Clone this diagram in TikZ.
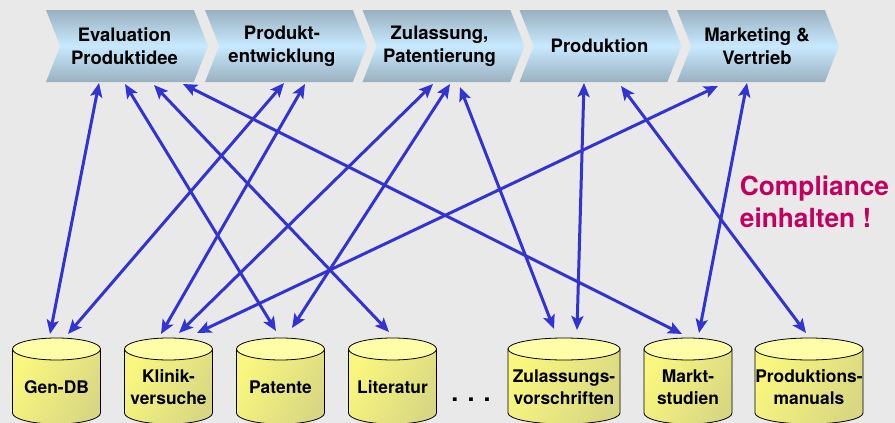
\documentclass[tikz,border=0pt]{standalone}
\usepackage{fontspec}
\setmainfont{TeX Gyre Heros}
\usetikzlibrary{arrows.meta,shapes.symbols}
\definecolor{bgc}{HTML}{E9E9E9}
\definecolor{chevA}{HTML}{9AB0BF}
\definecolor{chevB}{HTML}{C8E9FF}
\definecolor{cylA}{HTML}{F9F77E}
\definecolor{cylB}{HTML}{D9D882}
\definecolor{cylTop}{HTML}{FEFEA8}
\definecolor{linkc}{HTML}{3333D4}
\definecolor{warnc}{HTML}{C4005E}
\tikzset{
  chev/.style={shape=signal,signal from=west,signal to=east,signal pointer angle=137,
    minimum width=162pt,minimum height=72pt,inner sep=0pt,outer sep=0pt,
    top color=chevA,bottom color=chevA,middle color=chevB},
  chevtext/.style={inner sep=0pt,outer sep=0pt,align=center,
    font=\fontsize{18.5}{23}\selectfont\bfseries},
  cylbox/.style={minimum height=85pt,inner sep=0pt,outer sep=0pt,align=center,
    font=\fontsize{17.4}{22}\selectfont\bfseries},
  cylbody/.style={draw=black,line width=0.8pt,top color=cylA,bottom color=cylB,shading angle=60},
  cyltop/.style={draw=black,line width=0.8pt,fill=cylTop},
  link/.style={draw=linkc,line width=3pt,{Stealth[length=14pt,width=12pt,inset=3pt]}-{Stealth[length=14pt,width=12pt,inset=3pt]}}
}
\newcommand\chv[4]{% name, cx, text cx, text
  \node[chev] (#1) at (#2,46) {};
  \node[chevtext] (#1t) at (#3,46) {#4};
}
\newcommand\dbcyl[5]{% name, cx, width, text, text y
  \path[cylbody] ({#2-#3/2},349) -- ({#2-#3/2},413) arc[start angle=180,end angle=0,x radius={#3/2},y radius=11]
     -- ({#2+#3/2},349) -- cycle;
  \path[cyltop] (#2,349) ellipse[x radius={#3/2},y radius=11];
  \node[cylbox,minimum width=#3 pt] (#1) at (#2,380.5) {};
  \node[cylbox] (#1t) at (#2,#5) {#4};
}
\newcommand\lnk[6]{\draw[link] ([shift={(#2,#3)}]#1.south) -- ([shift={(#5,#6)}]#4.north);}
\begin{document}
\begin{tikzpicture}[x=1pt,y=-1pt]
\useasboundingbox (0,0) rectangle (895,423);
\clip (0,0) rectangle (895,423);
\fill[bgc] (0,0) rectangle (895,423);
\chv{ev}{127}{124.5}{Evaluation\\Produktidee}
\chv{pr}{286}{282}{Produkt-\\entwicklung}
\chv{zu}{443.5}{439.5}{Zulassung,\\Patentierung}
\chv{pn}{600.5}{599.5}{Produktion}
\chv{ma}{758}{757}{Marketing \&\\Vertrieb}
\dbcyl{gen}{56.5}{88}{Gen-DB}{387}
\dbcyl{kl}{168.5}{88}{Klinik-\\versuche}{387}
\dbcyl{pa}{280.5}{88}{Patente}{387}
\dbcyl{li}{392.5}{88}{Literatur}{387}
\dbcyl{zv}{564}{112}{Zulassungs-\\vorschriften}{387}
\dbcyl{ms}{688}{88}{Markt-\\studien}{387}
\dbcyl{pm}{809}{108}{Produktions-\\manuals}{387}
\node[font=\fontsize{25}{25}\selectfont\bfseries,inner sep=0pt] (dots) at (471,400) {. . .};
\node[font=\fontsize{26.3}{32}\selectfont\bfseries,text=warnc,align=left,inner sep=0pt] (comp) at (814.5,201.5) {Compliance\\einhalten !};
\lnk{ev}{-28}{1}{gen}{-6.5}{-4}
\lnk{pr}{-2}{1}{gen}{11.5}{-4}
\lnk{ev}{-2}{2}{pa}{-4.5}{-7}
\lnk{ev}{27}{3}{li}{-3.5}{-6}
\lnk{ev}{56}{2}{ms}{-6}{-4}
\lnk{pr}{19}{2}{kl}{-7.5}{-4}
\lnk{zu}{-10.5}{2}{kl}{10.5}{-5}
\lnk{zu}{6.5}{2}{pa}{11.5}{-10}
\lnk{zu}{16.5}{5}{zv}{-10}{-9}
\lnk{pn}{-16.5}{1}{zv}{13}{-8}
\lnk{pn}{20.5}{4}{pm}{-3}{-5}
\lnk{ma}{-40}{4}{kl}{28.5}{-5}
\lnk{ma}{-11}{1}{ms}{11}{-5}
\end{tikzpicture}
\end{document}
